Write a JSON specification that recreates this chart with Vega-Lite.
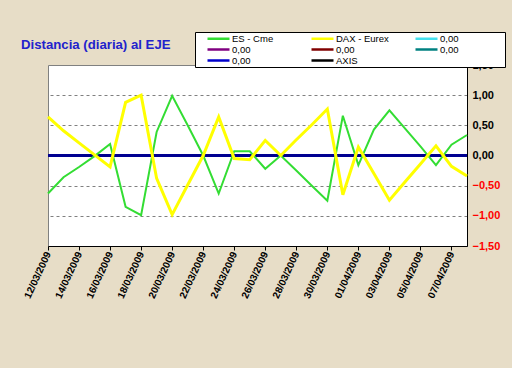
{
  "$schema": "https://vega.github.io/schema/vega-lite/v6.json",
  "width": 419,
  "height": 181,
  "autosize": {"type": "none"},
  "padding": {"left": 48, "top": 65, "right": 45, "bottom": 122},
  "background": "#E7DDC7",
  "title": {
    "text": "Distancia (diaria) al EJE",
    "anchor": "start",
    "frame": "group",
    "dx": -27,
    "dy": 16,
    "offset": -15,
    "baseline": "alphabetic",
    "font": "Liberation Sans",
    "fontSize": 13.2,
    "fontWeight": "bold",
    "color": "#2222CC"
  },
  "config": {
    "view": {"fill": "white", "stroke": "#808080", "strokeWidth": 1},
    "font": "Liberation Sans"
  },
  "data": {
    "values": [
      {"date": "2009-03-12", "ES": -0.63, "DAX": 0.64},
      {"date": "2009-03-13", "ES": -0.36, "DAX": 0.41},
      {"date": "2009-03-14", "ES": -0.19, "DAX": 0.21},
      {"date": "2009-03-15", "ES": -0.01, "DAX": 0.01},
      {"date": "2009-03-16", "ES": 0.19, "DAX": -0.19},
      {"date": "2009-03-17", "ES": -0.85, "DAX": 0.88},
      {"date": "2009-03-18", "ES": -0.99, "DAX": 1.0},
      {"date": "2009-03-19", "ES": 0.39, "DAX": -0.38},
      {"date": "2009-03-20", "ES": 0.99, "DAX": -0.98},
      {"date": "2009-03-21", "ES": 0.5, "DAX": -0.49},
      {"date": "2009-03-22", "ES": 0.0, "DAX": 0.0},
      {"date": "2009-03-23", "ES": -0.63, "DAX": 0.64},
      {"date": "2009-03-24", "ES": 0.07, "DAX": -0.05},
      {"date": "2009-03-25", "ES": 0.07, "DAX": -0.07},
      {"date": "2009-03-26", "ES": -0.22, "DAX": 0.25},
      {"date": "2009-03-27", "ES": 0.0, "DAX": 0.0},
      {"date": "2009-03-28", "ES": -0.25, "DAX": 0.26},
      {"date": "2009-03-29", "ES": -0.5, "DAX": 0.51},
      {"date": "2009-03-30", "ES": -0.75, "DAX": 0.77},
      {"date": "2009-03-31", "ES": 0.66, "DAX": -0.65},
      {"date": "2009-04-01", "ES": -0.16, "DAX": 0.14},
      {"date": "2009-04-02", "ES": 0.43, "DAX": -0.3},
      {"date": "2009-04-03", "ES": 0.75, "DAX": -0.74},
      {"date": "2009-04-04", "ES": 0.45, "DAX": -0.44},
      {"date": "2009-04-05", "ES": 0.15, "DAX": -0.14},
      {"date": "2009-04-06", "ES": -0.16, "DAX": 0.16},
      {"date": "2009-04-07", "ES": 0.18, "DAX": -0.18},
      {"date": "2009-04-08", "ES": 0.34, "DAX": -0.34}
    ]
  },
  "transform": [
    {"fold": ["ES", "DAX"], "as": ["serie", "valor"]}
  ],
  "layer": [
    {
      "mark": {"type": "rule", "color": "#000090", "strokeWidth": 2.5},
      "encoding": {"y": {"datum": 0, "type": "quantitative"}}
    },
    {
      "mark": {"type": "line", "interpolate": "linear"},
      "encoding": {
        "x": {
          "field": "date",
          "type": "temporal",
          "timeUnit": "utcyearmonthdate",
          "scale": {"domain": [{"year": 2009, "month": 3, "date": 12, "utc": true}, {"year": 2009, "month": 4, "date": 8, "utc": true}]},
          "axis": {
            "title": null,
            "format": "%d/%m/%Y",
            "values": [
              {"year": 2009, "month": 3, "date": 12, "utc": true},
              {"year": 2009, "month": 3, "date": 14, "utc": true},
              {"year": 2009, "month": 3, "date": 16, "utc": true},
              {"year": 2009, "month": 3, "date": 18, "utc": true},
              {"year": 2009, "month": 3, "date": 20, "utc": true},
              {"year": 2009, "month": 3, "date": 22, "utc": true},
              {"year": 2009, "month": 3, "date": 24, "utc": true},
              {"year": 2009, "month": 3, "date": 26, "utc": true},
              {"year": 2009, "month": 3, "date": 28, "utc": true},
              {"year": 2009, "month": 3, "date": 30, "utc": true},
              {"year": 2009, "month": 4, "date": 1, "utc": true},
              {"year": 2009, "month": 4, "date": 3, "utc": true},
              {"year": 2009, "month": 4, "date": 5, "utc": true},
              {"year": 2009, "month": 4, "date": 7, "utc": true}
            ],
            "labelAngle": -65,
            "labelAlign": "right",
            "labelBaseline": "middle",
            "labelFont": "Liberation Sans",
            "labelFontSize": 10,
            "labelFontWeight": "bold",
            "labelColor": "black",
            "labelPadding": 2,
            "labelOverlap": false,
            "labelFlush": false,
            "tickColor": "black",
            "tickSize": 4,
            "domainColor": "black",
            "grid": false
          }
        },
        "y": {
          "field": "valor",
          "type": "quantitative",
          "scale": {"domain": [-1.5, 1.5], "nice": false, "zero": false},
          "axis": {
            "orient": "right",
            "title": null,
            "tickCount": 7,
            "labelExpr": "replace(format(datum.value, '.2f'), '.', ',')",
            "labelColor": {"condition": {"test": "datum.value < 0", "value": "#FF0000"}, "value": "black"},
            "labelFont": "Liberation Sans",
            "labelFontSize": 11,
            "labelFontWeight": "bold",
            "labelPadding": 5,
            "labelOverlap": false,
            "labelFlush": false,
            "ticks": false,
            "domainColor": "black",
            "grid": true,
            "gridColor": "#808080",
            "gridDash": [3, 3],
            "gridWidth": 1
          }
        },
        "color": {
          "field": "serie",
          "type": "nominal",
          "scale": {
            "domain": ["ES", "c2", "c5", "DAX", "c3", "AXIS", "c1", "c4"],
            "range": ["#33DD33", "#800080", "#0000CC", "#FFFF00", "#800000", "black", "#44E0EE", "#008080"]
          },
          "legend": {
            "orient": "none",
            "legendX": 147,
            "legendY": -33,
            "columns": 3,
            "gridAlign": "all",
            "title": " ",
            "titleOrient": "right",
            "titleFontSize": 10,
            "titlePadding": 46,
            "fillColor": "white",
            "strokeColor": "black",
            "padding": 1,
            "rowPadding": -4,
            "columnPadding": 15,
            "symbolType": "M-2.75,0H2.75",
            "symbolStrokeWidth": 2.5,
            "symbolSize": 64,
            "symbolOffset": 17,
            "labelOffset": 8,
            "labelFont": "Liberation Sans",
            "labelFontSize": 9.5,
            "labelColor": "black",
            "labelExpr": "datum.label == 'ES' ? 'ES - Cme' : datum.label == 'DAX' ? 'DAX - Eurex' : datum.label == 'AXIS' ? 'AXIS' : '0,00'"
          }
        },
        "strokeWidth": {
          "field": "serie",
          "type": "nominal",
          "scale": {"domain": ["ES", "DAX"], "range": [2, 3]},
          "legend": null
        }
      }
    }
  ]
}
